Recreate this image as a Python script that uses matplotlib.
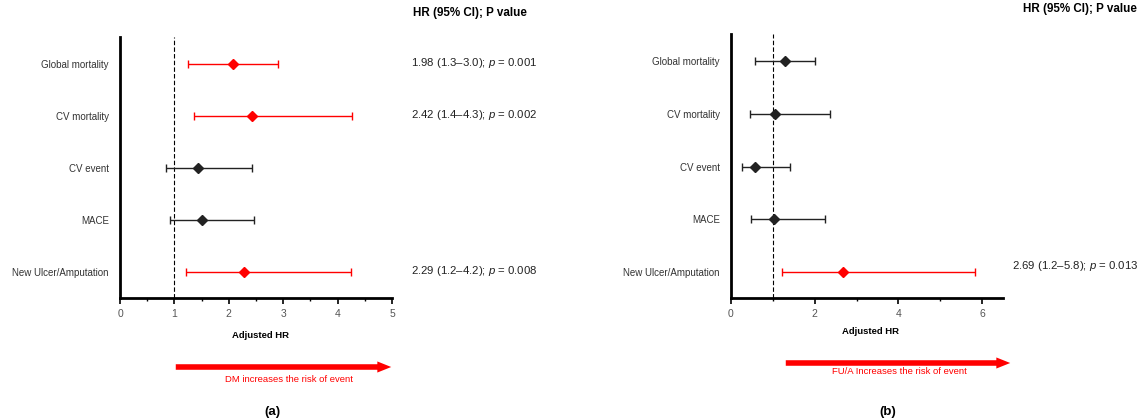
import matplotlib
matplotlib.use("Agg")
import matplotlib.pyplot as plt
from matplotlib.ticker import MultipleLocator
from matplotlib.transforms import blended_transform_factory

plt.rcParams['font.family'] = ['Liberation Sans', 'DejaVu Sans']
plt.rcParams['mathtext.fontset'] = 'custom'
plt.rcParams['mathtext.it'] = 'Liberation Sans:italic'
plt.rcParams['mathtext.rm'] = 'Liberation Sans'

categories = ["Global mortality", "CV mortality", "CV event", "MACE", "New Ulcer/Amputation"]

# Panel (a): DM
a_hr = [2.08, 2.42, 1.43, 1.51, 2.28]
a_lo = [1.25, 1.36, 0.84, 0.92, 1.22]
a_hi = [2.90, 4.27, 2.43, 2.47, 4.24]
a_sig = [True, True, False, False, True]
a_text = ["1.98 (1.3\u20133.0); $p$ = 0.001", "2.42 (1.4\u20134.3); $p$ = 0.002", None, None,
          "2.29 (1.2\u20134.2); $p$ = 0.008"]

# Panel (b): FU/A
b_hr = [1.30, 1.04, 0.58, 1.03, 2.67]
b_lo = [0.58, 0.46, 0.26, 0.47, 1.23]
b_hi = [2.01, 2.36, 1.41, 2.24, 5.82]
b_sig = [False, False, False, False, True]
b_text = [None, None, None, None, "2.69 (1.2\u20135.8); $p$ = 0.013"]

W, H = 1142, 420
fig = plt.figure(figsize=(W / 100, H / 100), dpi=100)


def fx(px):
    return px / W


def fy(py):
    return 1 - py / H


def panel(rect, hr, lo, hi, sig, xmax, major, minor):
    ax = fig.add_axes(rect)
    ys = list(range(len(categories)))
    for y, h, l, u, s in zip(ys, hr, lo, hi, sig):
        c = '#ff0000' if s else '#222222'
        ax.errorbar([h], [y], xerr=[[h - l], [u - h]], fmt='D', color=c, ecolor=c,
                    elinewidth=1.0, capsize=3, capthick=1.0, markersize=4.8, zorder=3)
    ax.axvline(1, color='black', linestyle=(0, (4, 2)), linewidth=0.8, zorder=1)
    ax.set_xlim(0, xmax)
    ax.set_ylim(len(categories) - 0.5, -0.52)
    ax.set_yticks(ys)
    ax.set_yticklabels(categories, fontsize=7.0, color='#333333')
    ax.tick_params(axis='y', length=0, pad=8)
    ax.xaxis.set_major_locator(MultipleLocator(major))
    ax.xaxis.set_minor_locator(MultipleLocator(minor))
    ax.tick_params(axis='x', which='major', length=4, width=1.2, labelsize=7.5,
                   labelcolor='#555555', pad=4)
    ax.tick_params(axis='x', which='minor', length=2.5, width=1.0)
    for sp in ['top', 'right']:
        ax.spines[sp].set_visible(False)
    for sp in ['left', 'bottom']:
        ax.spines[sp].set_linewidth(2.0)
    ax.set_facecolor('none')
    return ax


axa = panel([fx(120), fy(298), fx(392) - fx(120), fy(37) - fy(298)],
            a_hr, a_lo, a_hi, a_sig, 5, 1, 0.5)
axb = panel([fx(731), fy(298), fx(1003) - fx(731), fy(34) - fy(298)],
            b_hr, b_lo, b_hi, b_sig, 6.5, 2, 1)

# annotation texts
tra = blended_transform_factory(fig.transFigure, axa.transData)
for i, t in enumerate(a_text):
    if t:
        axa.text(fx(411), i - 0.02, t, transform=tra, fontsize=8.2, color='#222222',
                 va='center', ha='left')
trb = blended_transform_factory(fig.transFigure, axb.transData)
for i, t in enumerate(b_text):
    if t:
        axb.text(fx(1012), i - 0.1, t, transform=trb, fontsize=8.2, color='#222222',
                 va='center', ha='left')

fig.text(fx(413), fy(13), "HR (95% CI); P value", fontsize=8.4, fontweight='bold',
         ha='left', va='center')
fig.text(fx(1023), fy(9), "HR (95% CI); P value", fontsize=8.4, fontweight='bold',
         ha='left', va='center')

fig.text(fx(260), fy(335), "Adjusted HR", fontsize=6.8, fontweight='bold', ha='center', va='center')
fig.text(fx(871), fy(332), "Adjusted HR", fontsize=6.8, fontweight='bold', ha='center', va='center')

# arrows
for x0, x1, y in [(173, 394, 367), (783, 1013, 363)]:
    fig.add_artist(matplotlib.patches.FancyArrowPatch(
        (fx(x0), fy(y)), (fx(x1), fy(y)), transform=fig.transFigure,
        arrowstyle='simple,head_length=10,head_width=8,tail_width=4',
        color='#ff0000', mutation_scale=1, linewidth=0))

fig.text(fx(289), fy(379), "DM increases the risk of event", fontsize=6.8, color='#ff0000',
         ha='center', va='center')
fig.text(fx(899), fy(372), "FU/A Increases the risk of event", fontsize=6.8, color='#ff0000',
         ha='center', va='center')

fig.text(fx(272), fy(412), "(a)", fontsize=9.5, fontweight='bold', ha='center', va='center')
fig.text(fx(888), fy(412), "(b)", fontsize=9.5, fontweight='bold', ha='center', va='center')

fig.savefig("out.png", dpi=100, facecolor='white')
